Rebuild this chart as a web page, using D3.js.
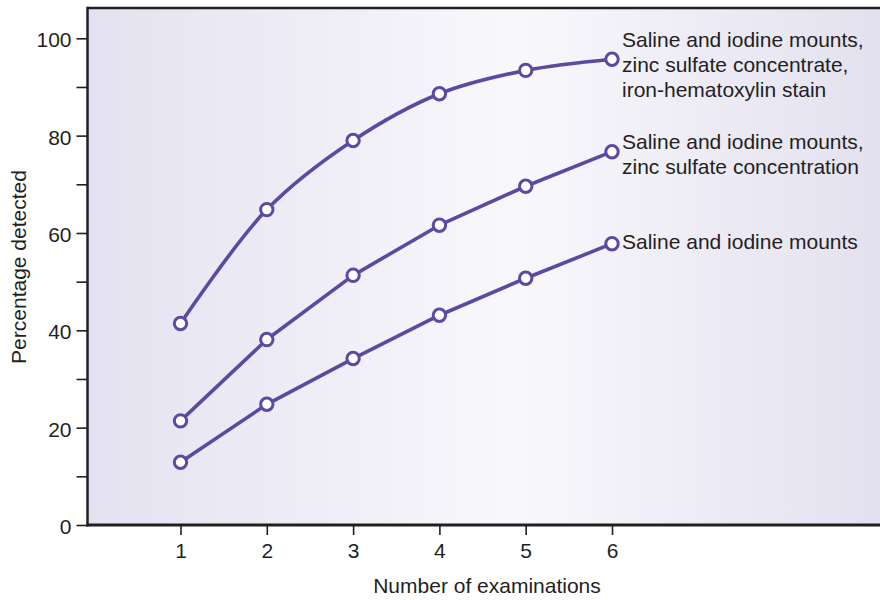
<!DOCTYPE html>
<html>
<head>
<meta charset="utf-8">
<script src="https://cdn.jsdelivr.net/npm/d3@7"></script>
<style>
  html, body { margin: 0; padding: 0; background: #ffffff; }
  svg { display: block; font-family: "Liberation Sans", Arial, Helvetica, sans-serif; }
</style>
</head>
<body>
<svg id="chart" width="880" height="600"></svg>
<script>
// ---- data ----
const examinations = [1, 2, 3, 4, 5, 6];
const salineIodineZincIron = [41.4, 64.8, 79.0, 88.6, 93.4, 95.7];
const salineIodineZinc = [21.4, 38.1, 51.3, 61.6, 69.6, 76.7];
const salineIodine = [12.9, 24.8, 34.2, 43.1, 50.7, 57.8];
const seriesLabels = [
  ["Saline and iodine mounts,", "zinc sulfate concentrate,", "iron-hematoxylin stain"],
  ["Saline and iodine mounts,", "zinc sulfate concentration"],
  ["Saline and iodine mounts"]
];
const yTickValues = [0, 10, 20, 30, 40, 50, 60, 70, 80, 90, 100];
const xTickValues = [1, 2, 3, 4, 5, 6];
const xTitle = "Number of examinations";
const yTitle = "Percentage detected";

// ---- layout ----
const svg = d3.select("#chart");
const plotLeft = 87.5, plotRight = 880, plotTop = 8, plotBottom = 525;
const lineColor = "#5a4ba1";
const inkColor = "#231f20";

const x = d3.scaleLinear().domain([1, 6]).range([180.5, 612]);
const y = d3.scaleLinear().domain([0, 100]).range([plotBottom, 38.3]);

// background gradient
const defs = svg.append("defs");
const grad = defs.append("linearGradient").attr("id", "bg")
  .attr("x1", "0%").attr("x2", "100%").attr("y1", "0%").attr("y2", "0%");
grad.append("stop").attr("offset", "0%").attr("stop-color", "#e4e2f0");
grad.append("stop").attr("offset", "54%").attr("stop-color", "#f8f8fc");
grad.append("stop").attr("offset", "100%").attr("stop-color", "#e3e1ef");

svg.append("rect")
  .attr("x", plotLeft).attr("y", plotTop)
  .attr("width", plotRight - plotLeft).attr("height", plotBottom - plotTop)
  .attr("fill", "url(#bg)");

// frame: top border
svg.append("line")
  .attr("x1", plotLeft).attr("x2", plotRight)
  .attr("y1", plotTop).attr("y2", plotTop)
  .attr("stroke", inkColor).attr("stroke-width", 2.5);

// y axis
const yAxis = d3.axisLeft(y)
  .tickValues(yTickValues)
  .tickSize(11)
  .tickPadding(5)
  .tickFormat(d => d % 20 === 0 ? d : "");
const gy = svg.append("g").attr("transform", `translate(${plotLeft},0)`).call(yAxis);
gy.select(".domain").remove();
gy.selectAll(".tick line").attr("stroke", inkColor).attr("stroke-width", 1.6);
gy.selectAll(".tick text").attr("fill", inkColor).attr("font-size", 21)
  .attr("dy", "0.4em");

// x axis
const xAxis = d3.axisBottom(x)
  .tickValues(xTickValues)
  .tickSize(10)
  .tickPadding(8)
  .tickFormat(d3.format("d"));
const gx = svg.append("g").attr("transform", `translate(0,${plotBottom})`).call(xAxis);
gx.select(".domain").remove();
gx.selectAll(".tick line").attr("stroke", inkColor).attr("stroke-width", 1.6);
gx.selectAll(".tick text").attr("fill", inkColor).attr("font-size", 21);

// axis lines (left and bottom)
svg.append("line")
  .attr("x1", plotLeft).attr("x2", plotLeft)
  .attr("y1", plotTop - 1.2).attr("y2", plotBottom + 1.5)
  .attr("stroke", inkColor).attr("stroke-width", 2.5);
svg.append("line")
  .attr("x1", plotLeft - 1.2).attr("x2", plotRight)
  .attr("y1", plotBottom).attr("y2", plotBottom)
  .attr("stroke", inkColor).attr("stroke-width", 3);

// titles
svg.append("text")
  .attr("x", 487).attr("y", 593)
  .attr("text-anchor", "middle")
  .attr("font-size", 21).attr("fill", inkColor)
  .text(xTitle);
svg.append("text")
  .attr("transform", "translate(26,267) rotate(-90)")
  .attr("text-anchor", "middle")
  .attr("font-size", 21).attr("fill", inkColor)
  .text(yTitle);

// series
const seriesList = [
  { values: salineIodineZincIron, curve: d3.curveCatmullRom.alpha(0.5), label: seriesLabels[0], dy: -12 },
  { values: salineIodineZinc, curve: d3.curveLinear, label: seriesLabels[1], dy: -3 },
  { values: salineIodine, curve: d3.curveLinear, label: seriesLabels[2], dy: 5.5 }
];

seriesList.forEach(s => {
  const pts = examinations.map((e, i) => [e, s.values[i]]);
  const line = d3.line().x(d => x(d[0])).y(d => y(d[1])).curve(s.curve);
  svg.append("path")
    .attr("d", line(pts))
    .attr("fill", "none")
    .attr("stroke", lineColor)
    .attr("stroke-width", 3.6)
    .attr("stroke-linejoin", "round");
  svg.append("g").selectAll("circle")
    .data(pts).join("circle")
    .attr("cx", d => x(d[0])).attr("cy", d => y(d[1]))
    .attr("r", 6.2)
    .attr("fill", "#ffffff")
    .attr("stroke", lineColor)
    .attr("stroke-width", 3);

  const last = s.values[s.values.length - 1];
  const t = svg.append("text")
    .attr("x", 622)
    .attr("y", y(last) + s.dy)
    .attr("font-size", 21)
    .attr("fill", inkColor);
  s.label.forEach((ln, i) => {
    t.append("tspan").attr("x", 622).attr("dy", i === 0 ? 0 : 25).text(ln);
  });
});
</script>
</body>
</html>
